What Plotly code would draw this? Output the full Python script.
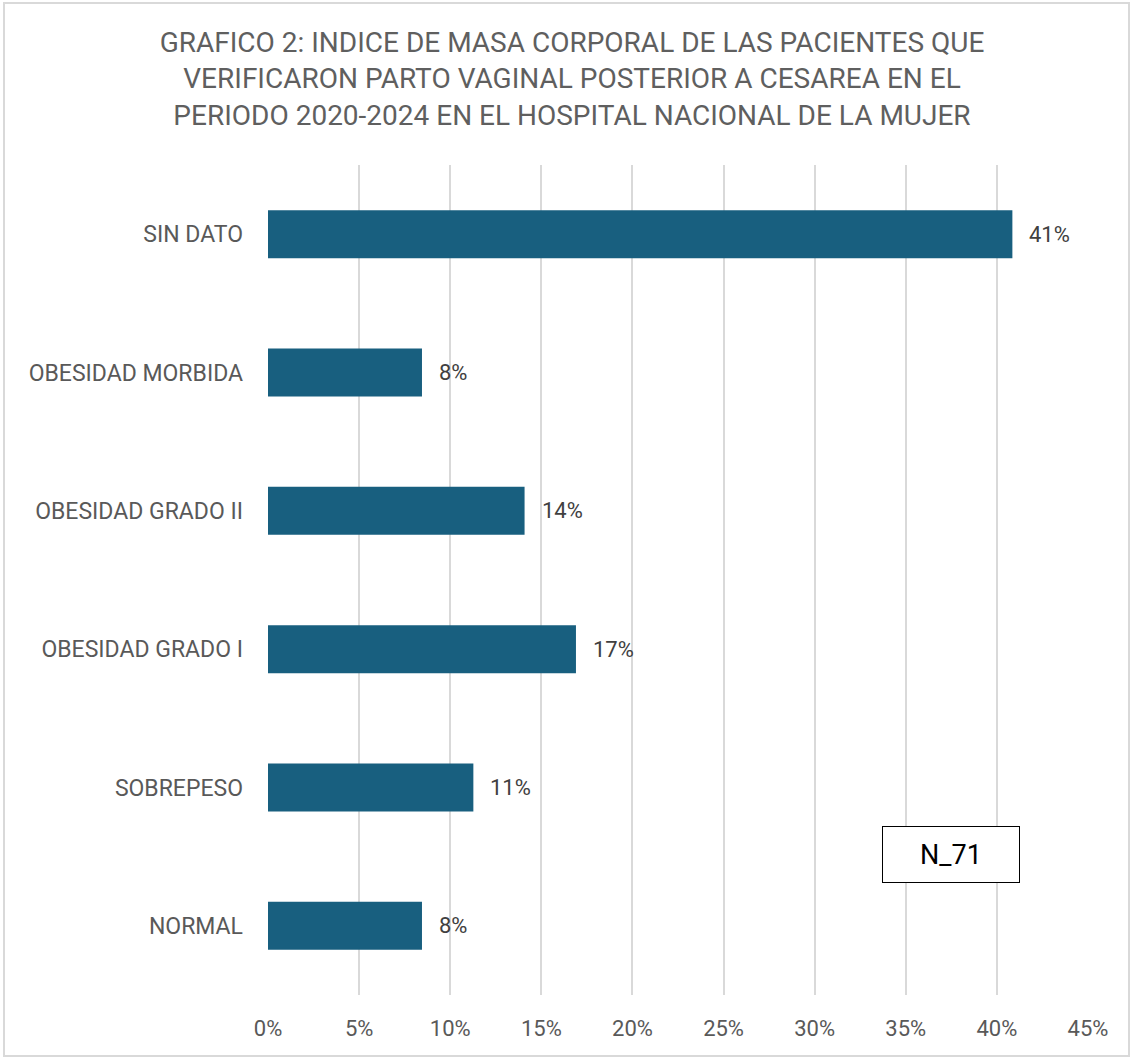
import plotly.graph_objects as go

categories = ["NORMAL", "SOBREPESO", "OBESIDAD GRADO I", "OBESIDAD GRADO II", "OBESIDAD MORBIDA", "SIN DATO"]
values = [0.0845, 0.1127, 0.1690, 0.1408, 0.0845, 0.4085]
labels = ["8%", "11%", "17%", "14%", "8%", "41%"]
x_ticks = [0, 0.05, 0.10, 0.15, 0.20, 0.25, 0.30, 0.35, 0.40, 0.45]
title_text = ("GRAFICO 2: INDICE DE MASA CORPORAL DE LAS PACIENTES QUE<br>"
              "VERIFICARON PARTO VAGINAL POSTERIOR A CESAREA EN EL<br>"
              "PERIODO 2020-2024 EN EL HOSPITAL NACIONAL DE LA MUJER")
n_label = "N_71"

W, H = 1132, 1057
L, R, T, B = 268, 44, 165, 62
pw = W - L - R
ph = H - T - B

def px_x(x):
    return (x - L) / pw

def px_y(y):
    return (H - B - y) / ph

fig = go.Figure(go.Bar(
    y=categories, x=values, orientation="h",
    marker=dict(color="#185F7F", line=dict(width=0)),
    hoverinfo="x+y",
))

for c, v, t in zip(categories, values, labels):
    fig.add_annotation(x=v, y=c, xref="x", yref="y", text=t, showarrow=False,
                       xanchor="left", yanchor="middle", xshift=15,
                       font=dict(size=22, color="#404040", family="Roboto"))

fig.update_layout(
    width=W, height=H,
    margin=dict(l=L, r=R, t=T, b=B),
    paper_bgcolor="white", plot_bgcolor="white",
    bargap=0.653,
    showlegend=False,
    font=dict(family="Roboto", color="#595959"),
    title=dict(text=title_text, x=px_x(572), xref="paper", xanchor="center",
               y=1 - 52 / H, yanchor="middle",
               font=dict(size=28, color="#5f5f5f", family="Roboto")),
    xaxis=dict(range=[0, 0.45], tickvals=x_ticks, tickformat=".0%",
               showgrid=True, gridcolor="#d9d9d9", gridwidth=2,
               zeroline=False, showline=False, ticks="",
               tickfont=dict(size=22, color="#595959"), ticklabelstandoff=18),
    yaxis=dict(showgrid=False, zeroline=False, showline=False, ticks="",
               tickfont=dict(size=23, color="#595959"), ticklabelstandoff=24),
)

fig.add_shape(type="rect", xref="paper", yref="paper",
              x0=px_x(4), x1=px_x(1129), y0=px_y(1056), y1=px_y(3),
              line=dict(color="#d9d9d9", width=2), fillcolor="rgba(0,0,0,0)", layer="below")

fig.add_annotation(xref="paper", yref="paper", x=px_x(950.5), y=px_y(854),
                   text=n_label, showarrow=False,
                   font=dict(size=27, color="#000000", family="Roboto"),
                   bordercolor="#000000", borderwidth=1, bgcolor="white",
                   width=134, height=53, xanchor="center", yanchor="middle")

fig.write_html("out.html", config={"displayModeBar": False},
               post_script="document.body.style.margin='0';document.body.style.overflow='hidden';")
